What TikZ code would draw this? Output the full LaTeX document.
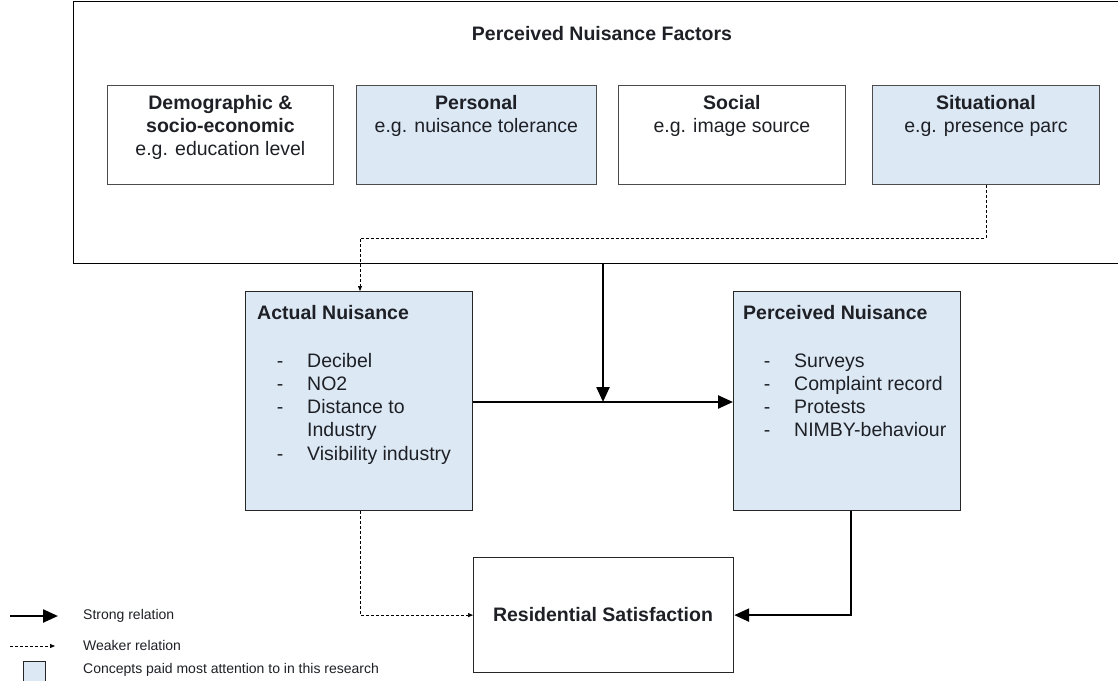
\documentclass[tikz,border=0pt]{standalone}
\usepackage{fontspec}
\setmainfont{Liberation Sans}
\usetikzlibrary{arrows.meta}
\definecolor{focusblue}{RGB}{220,233,245}
\definecolor{inkdark}{RGB}{30,32,38}
\begin{document}
\begin{tikzpicture}[x=1pt,y=-1pt,
  every node/.style={font=\fontsize{19.5}{23}\selectfont, text=inkdark, inner sep=0pt},
  factorbox/.style={draw=black!70, line width=0.8pt, minimum width=#1, minimum height=99pt, anchor=north west},
  conceptbox/.style={draw=black!85, line width=1.2pt, anchor=north west},
  strong/.style={line width=2.4pt, -{Triangle[length=15pt,width=13pt]}},
  weak/.style={line width=0.7pt, dashed, dash pattern=on 3pt off 2pt, -{Triangle[length=5pt,width=4pt]}},
  legendtext/.style={font=\fontsize{14}{16}\selectfont, anchor=west}]
\useasboundingbox (0,0) rectangle (1118,680);

% frame holding the perceived nuisance factors (its right side runs past the page)
\node[draw=black, line width=1.3pt, minimum width=1055pt, minimum height=262pt, anchor=north west] (factors) at (73,1) {};
\node[font=\fontsize{19.5}{23}\selectfont\bfseries] (factorstitle) at (602,34) {Perceived Nuisance Factors};

% the four groups of factors
\node[factorbox=226pt] (demo) at (107,85) {};
\node[factorbox=240pt, fill=focusblue] (pers) at (356,85) {};
\node[factorbox=227pt] (soc) at (618,85) {};
\node[factorbox=227pt, fill=focusblue] (sit) at (872,85) {};

\node[align=center, anchor=north] (demotext) at (demo.north) [yshift=-10pt] {\textbf{Demographic \&}\\\textbf{socio-economic}\\e.g. education level};
\node[align=center, anchor=north] (perstext) at (pers.north) [yshift=-10pt] {\textbf{Personal}\\e.g. nuisance tolerance};
\node[align=center, anchor=north] (soctext) at (soc.north) [yshift=-10pt] {\textbf{Social}\\e.g. image source};
\node[align=center, anchor=north] (sittext) at (sit.north) [yshift=-10pt] {\textbf{Situational}\\e.g. presence parc};

% measured and perceived nuisance
\node[conceptbox, fill=focusblue, minimum width=227pt, minimum height=219pt] (actual) at (245,291) {};
\node[conceptbox, fill=focusblue, minimum width=227pt, minimum height=219pt] (perceived) at (733,291) {};

\node[anchor=west, font=\fontsize{19.5}{23}\selectfont\bfseries] (actualtitle) at (257,313) {Actual Nuisance};
\node[anchor=west, font=\fontsize{19.5}{23}\selectfont\bfseries] (perceivedtitle) at (743,313) {Perceived Nuisance};

\foreach \txt [count=\i] in {Decibel, NO2, Distance to, Industry, Visibility industry}{
  \node[anchor=base west] (actualitem\i) at (307,344+23.2*\i) {\txt};
}
\foreach \i in {1,2,3,5}{
  \node[anchor=base] (actualdash\i) at (280,344+23.2*\i) {-};
}
\foreach \txt [count=\i] in {Surveys, Complaint record, Protests, NIMBY-behaviour}{
  \node[anchor=base west] (perceiveditem\i) at (794,344+23.2*\i) {\txt};
  \node[anchor=base] (perceiveddash\i) at (767,344+23.2*\i) {-};
}

% outcome
\node[conceptbox, fill=white, minimum width=260pt, minimum height=115pt] (satisf) at (473,557) {};
\node[font=\fontsize{19.5}{23}\selectfont\bfseries] (satisftext) at (603,615) {Residential Satisfaction};

% relations
\coordinate (meet) at (603,402);
\draw[line width=2.4pt] (actual.east |- meet) -- (meet);
\draw[strong] (meet) -- (perceived.west |- meet);
\draw[strong] (factors.south -| meet) -- (meet);
\draw[strong] (perceived.south -| 851,0) |- (satisf.east);
\draw[weak] (actual.south -| 360,0) |- (satisf.west);
\draw[weak] (sit.south) -- (sit.south |- 0,238) -| (actual.north -| 360,0);

% legend
\coordinate (strongstart) at (10,616);
\coordinate (strongend) at (58,616);
\draw[strong] (strongstart) -- (strongend);
\node[legendtext] (stronglabel) at (83,616) {Strong relation};
\coordinate (weakstart) at (10,646);
\coordinate (weakend) at (55,646);
\draw[weak] (weakstart) -- (weakend);
\node[legendtext] (weaklabel) at (83,645) {Weaker relation};
\node[draw=black!85, line width=1pt, fill=focusblue, minimum width=22pt, minimum height=22pt, anchor=north west] (legendbox) at (23,661) {};
\node[legendtext] (boxlabel) at (83,670) {Concepts paid most attention to in this research};
\end{tikzpicture}
\end{document}
